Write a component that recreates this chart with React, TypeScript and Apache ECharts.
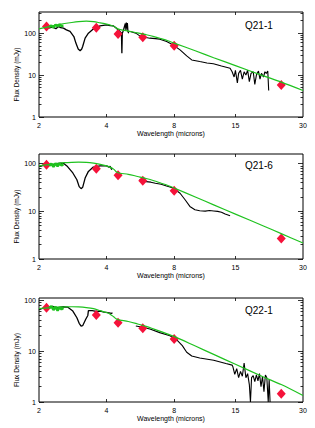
import React, { useEffect, useRef } from 'react';
import * as echarts from 'echarts';

// ---- axis ticks ----
const xTickLabels = [2, 4, 8, 15, 30];
const xTickMarks = [4, 8, 15];
const yMajor = [1, 10, 100];
const yMinor = [2, 3, 4, 5, 6, 7, 8, 9, 20, 30, 40, 50, 60, 70, 80, 90, 200, 300];
const yMax = [320, 160, 110];
const panelNames = ['Q21-1', 'Q21-6', 'Q22-1'];

// ---- model (green) ----
const modelWl = [2.0, 2.2, 2.4, 2.6, 2.8, 3.0, 3.25, 3.5, 3.75, 4.0, 4.15, 4.3, 4.45, 4.6, 5.0, 5.5, 6.0, 6.5, 7.0, 7.5, 8.0, 10, 12, 15, 20, 24, 30];
const modelFlux1 = [127, 142, 158, 170, 180, 188, 193, 188, 176, 165, 157, 146, 130, 122, 112, 102, 92, 83, 74, 66, 58, 37.5, 26, 16.8, 9.6, 6.8, 4.3];
const modelFlux2 = [90, 96, 101, 105, 107, 108, 107, 103, 97, 90, 85, 77, 66, 63, 60, 54, 49, 44, 39, 35, 31, 19.8, 13.7, 8.75, 4.93, 3.41, 2.16];
const modelFlux3 = [68, 70.5, 72.5, 73.5, 74, 73.5, 71.5, 68, 62, 57, 53, 47, 42, 40.5, 38, 34, 30.5, 27, 24, 21.5, 19.4, 12.4, 8.6, 5.5, 3.1, 2.2, 1.34];

// ---- photometry (red diamonds) ----
const photWl = [2.16, 3.6, 4.5, 5.8, 8.0, 24];
const photFlux1 = [145, 135, 95, 80, 50, 5.8];
const photFlux2 = [95, 78, 57, 44, 27, 2.7];
const photFlux3 = [71, 51, 36, 28, 17.3, 1.45];

// ---- near-IR spectrum (green, thick) ----
const nirWl = [2.22, 2.27, 2.32, 2.37, 2.42, 2.47, 2.52, 2.57];
const nirFlux1 = [140, 152, 136, 160, 145, 162, 148, 150];
const nirFlux2 = [90, 100, 86, 102, 88, 101, 92, 98];
const nirFlux3 = [70, 76, 64, 74, 62, 72, 66, 70];

// ---- short-wavelength spectrum (black) ----
const specAWl1 = [2.2, 2.3, 2.38, 2.44, 2.5, 2.57, 2.65, 2.75, 2.86, 2.92, 2.99, 3.05, 3.1, 3.13, 3.21, 3.32, 3.49, 3.74, 4.0, 4.15, 4.28, 4.4, 4.5, 4.6, 4.66, 4.68, 4.7, 4.75, 4.8, 4.85, 4.88, 4.9, 4.93, 4.95, 4.98, 5.02];
const specAFlux1 = [132, 140, 128, 145, 135, 132, 120, 110, 83, 58, 42, 38, 42, 48, 76, 100, 125, 150, 158, 152, 150, 135, 120, 108, 100, 33, 100, 115, 140, 170, 120, 180, 130, 175, 110, 100];
const specAWl2 = [2.0, 2.1, 2.2, 2.3, 2.4, 2.5, 2.57, 2.68, 2.83, 2.95, 3.02, 3.08, 3.13, 3.21, 3.32, 3.49, 3.74, 4.0, 4.1, 4.15, 4.22];
const specAFlux2 = [88, 92, 97, 95, 100, 103, 102, 87, 64, 46, 33, 30, 32, 50, 69, 85, 90, 90, 85, 88, 75];
const specAWl3 = [2.0, 2.1, 2.2, 2.3, 2.4, 2.5, 2.57, 2.68, 2.83, 2.95, 3.02, 3.08, 3.13, 3.23, 3.3, 3.32, 3.45, 3.6, 3.75, 3.9, 4.05, 4.2, 4.25];
const specAFlux3 = [65, 70, 72, 75, 70, 73, 74, 73, 61, 45, 35, 31, 31.5, 42, 50, 62, 62, 60, 61, 58, 57, 55, 56];

// ---- mid-IR spectrum (black) ----
const specBWl1 = [5.1, 5.4, 5.64, 5.9, 6.24, 6.6, 6.91, 7.41, 7.92, 8.5, 9.1, 9.58, 10.4, 11.2, 11.96, 13.0, 14.2, 14.5, 14.8, 15.0, 15.3, 15.5, 15.8, 16.1, 16.4, 16.7, 17.0, 17.3, 17.6, 18.0, 18.3, 18.6, 19.0, 19.3, 19.6, 20.0, 20.3, 20.6, 20.9, 21.1];
const specBFlux1 = [110, 100, 85, 80, 76, 74, 72, 63, 52, 40, 28.8, 23, 21, 19.5, 18.6, 16.5, 14.6, 12, 9, 13, 6.5, 11, 13, 8, 12, 10, 13, 7, 11, 12, 6, 10, 12.5, 8, 11, 9, 12, 11, 12.5, 4.3];
const specBWl2 = [5.6, 5.8, 6.0, 6.3, 6.6, 7.0, 7.4, 7.92, 8.5, 8.95, 9.4, 9.9, 10.4, 11.0, 11.5, 12.0, 12.5, 13.0, 13.5, 14.2];
const specBFlux2 = [46, 43, 42, 41, 39, 37, 34, 31, 24, 17.5, 12.7, 10.8, 10.3, 10.1, 10.4, 10.2, 10, 9.6, 8.8, 8.1];
const specBWl3 = [5.4, 5.64, 6.24, 6.9, 7.66, 8.2, 8.7, 9.1, 9.58, 10.4, 12.0, 13.6, 14.5, 14.6, 14.9, 15.2, 15.5, 15.8, 16.1, 16.4, 16.7, 17.0, 17.3, 17.5, 17.7, 18.0, 18.3, 18.6, 18.9, 19.2, 19.5, 19.8, 20.1, 20.4, 20.7, 21.0, 21.2, 21.4];
const specBFlux3 = [31, 30, 27, 23, 20, 16.8, 12.8, 9.5, 8, 7.3, 6.6, 5.7, 5.3, 5.0, 3.5, 4.5, 3.0, 4.0, 3.2, 5.8, 3.0, 3.6, 2.2, 1.0, 3.0, 3.3, 2.5, 3.4, 2.6, 3.6, 2.0, 3.2, 1.6, 3.4, 3.0, 1.0, 2.8, 1.0];

const pair = (xs: number[], ys: number[]) => xs.map((x, i) => [x, ys[i]]);

const FONT = 'Liberation Sans, Arial, sans-serif';
const GREEN = '#1fc21f';
const RED = '#f5123a';

const panels = [
  { top: 12, height: 105, model: modelFlux1, phot: photFlux1, nir: nirFlux1, aWl: specAWl1, aF: specAFlux1, bWl: specBWl1, bF: specBFlux1, nameY: 74.5, titleY: 25 },
  { top: 154, height: 105, model: modelFlux2, phot: photFlux2, nir: nirFlux2, aWl: specAWl2, aF: specAFlux2, bWl: specBWl2, bF: specBFlux2, nameY: 216.5, titleY: 165 },
  { top: 298, height: 104, model: modelFlux3, phot: photFlux3, nir: nirFlux3, aWl: specAWl3, aF: specAFlux3, bWl: specBWl3, bF: specBFlux3, nameY: 360, titleY: 310 },
];

function buildOption() {
  const grid: any[] = [];
  const xAxis: any[] = [];
  const yAxis: any[] = [];
  const series: any[] = [];
  const graphic: any[] = [];

  panels.forEach((p, g) => {
    grid.push({ left: 39, width: 264, top: p.top, height: p.height, show: true, borderColor: '#000', borderWidth: 1, backgroundColor: 'transparent' });
    const xBase = {
      type: 'log', logBase: 10, min: 2, max: 30, gridIndex: g,
      axisLine: { show: false }, splitLine: { show: false },
      axisTick: { show: true, inside: true, length: 3, customValues: xTickMarks, lineStyle: { color: '#000', width: 0.8 } },
    };
    xAxis.push({
      ...xBase, position: 'bottom',
      axisLabel: { show: true, customValues: xTickLabels, fontSize: 7, color: '#000', margin: 5, fontFamily: FONT },
      name: 'Wavelength (microns)', nameLocation: 'middle', nameGap: 13,
      nameTextStyle: { fontSize: 7, color: '#000', fontFamily: FONT },
    });
    xAxis.push({ ...xBase, position: 'top', axisLabel: { show: false } });

    const yBase = {
      type: 'log', logBase: 10, min: 1, max: yMax[g], gridIndex: g,
      axisLine: { show: false }, splitLine: { show: false }, minorTick: { show: false },
    };
    const majorTick = { show: true, inside: true, length: 5, customValues: yMajor, lineStyle: { color: '#000', width: 0.8 } };
    const minorTick = { show: true, inside: true, length: 2.5, customValues: yMinor, lineStyle: { color: '#000', width: 0.8 } };
    yAxis.push({
      ...yBase, position: 'left', axisTick: majorTick,
      axisLabel: { show: true, customValues: yMajor, fontSize: 7, color: '#000', margin: 3, fontFamily: FONT },
    });
    yAxis.push({ ...yBase, position: 'left', axisTick: minorTick, axisLabel: { show: false } });
    yAxis.push({ ...yBase, position: 'right', axisTick: majorTick, axisLabel: { show: false } });
    yAxis.push({ ...yBase, position: 'right', axisTick: minorTick, axisLabel: { show: false } });

    const xi = 2 * g;
    const yi = 4 * g;
    series.push({
      type: 'line', xAxisIndex: xi, yAxisIndex: yi, data: pair(p.aWl, p.aF),
      showSymbol: false, symbol: 'none', lineStyle: { color: '#000', width: 1.3 }, z: 2,
    });
    series.push({
      type: 'line', xAxisIndex: xi, yAxisIndex: yi, data: pair(p.bWl, p.bF),
      showSymbol: false, symbol: 'none', lineStyle: { color: '#000', width: 1.1 }, z: 2,
    });
    series.push({
      type: 'scatter', xAxisIndex: xi, yAxisIndex: yi, data: pair(photWl, p.phot),
      symbol: 'diamond', symbolSize: [9, 10], itemStyle: { color: RED, opacity: 1 }, z: 3,
    });
    series.push({
      type: 'line', xAxisIndex: xi, yAxisIndex: yi, data: pair(nirWl, p.nir),
      showSymbol: false, symbol: 'none', lineStyle: { color: GREEN, width: 2.5 }, z: 4,
    });
    series.push({
      type: 'line', xAxisIndex: xi, yAxisIndex: yi, data: pair(modelWl, p.model),
      showSymbol: false, symbol: 'none', smooth: 0.3, lineStyle: { color: GREEN, width: 1.2 }, z: 5,
    });

    graphic.push({
      type: 'text', x: 245, y: p.titleY,
      style: { text: panelNames[g], fontSize: 10, fill: '#000', fontFamily: FONT, verticalAlign: 'middle', align: 'left' },
    });
    graphic.push({
      type: 'text', x: 16.7, y: p.nameY, rotation: Math.PI / 2,
      style: { text: 'Flux Density (mJy)', fontSize: 6.5, fill: '#000', fontFamily: FONT, verticalAlign: 'middle', align: 'center' },
    });
  });

  return { animation: false, backgroundColor: '#fff', grid, xAxis, yAxis, series, graphic };
}

export default function App() {
  const ref = useRef<HTMLDivElement>(null);
  useEffect(() => {
    if (!ref.current) return;
    const chart = echarts.init(ref.current, undefined, { renderer: 'svg' });
    chart.setOption(buildOption() as any);
    return () => chart.dispose();
  }, []);
  return <div ref={ref} style={{ position: 'absolute', left: 0, top: 0, width: 315, height: 428, background: '#fff' }} />;
}
